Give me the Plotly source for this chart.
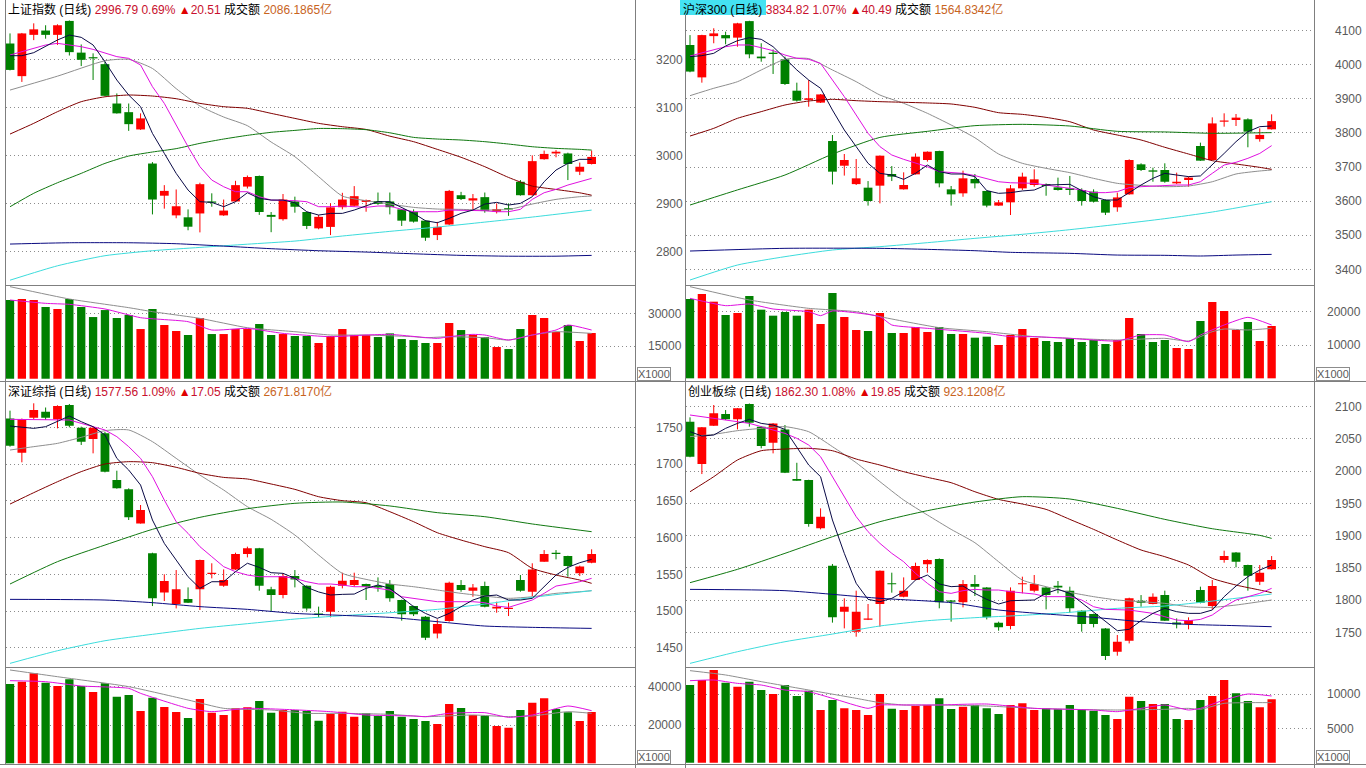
import plotly.graph_objects as go

W, H = 1366, 768
N = 50
IDX = list(range(N))

# ======================= 上证指数 =======================
SH_OPEN = [3233, 3165, 3251, 3260, 3251, 3280, 3214, 3204, 3190, 3108, 3090, 3054, 2983, 2916, 2875, 2871, 2879, 2904, 2875, 2904,
           2935, 2957, 2876, 2867, 2904, 2882, 2848, 2851, 2892, 2895, 2903, 2905, 2904, 2887.5, 2882.6, 2864, 2834, 2856, 2917, 2906,
           2913, 2882.6, 2890, 2945, 2917, 2992, 3004, 3004, 2966, 2982]
SH_HIGH = [3254, 3255, 3275, 3271, 3273, 3281, 3231, 3212.5, 3195, 3129, 3108, 3087.5, 2986, 2938, 2929, 2887.5, 2943, 2921, 2908, 2947,
           2958, 2958, 2882, 2919.5, 2914, 2883, 2876, 2900, 2922, 2936, 2908, 2922.6, 2922.6, 2888, 2887.5, 2865, 2861.5, 2928, 2924, 2919.5,
           2922.6, 2900, 2900, 2948.6, 3000, 3010, 3011, 3005.6, 2985, 3010]
SH_LOW = [3177, 3153, 3240, 3243, 3230, 3208, 3186, 3157, 3123, 3087, 3051, 3053, 2877, 2889, 2869, 2844, 2839.6, 2893, 2874, 2903,
          2931, 2876, 2840, 2864, 2880.6, 2846.5, 2846, 2834, 2887.5, 2893, 2882.6, 2897, 2877, 2853, 2860, 2822, 2823.6, 2855, 2907, 2886,
          2880.6, 2879, 2874, 2916, 2916, 2991, 2996, 2948.6, 2959, 2981]
SH_CLOSE = [3178, 3254, 3262.5, 3251, 3271, 3215, 3199, 3202, 3124, 3087.5, 3065, 3077, 2908, 2926, 2894, 2851.4, 2940, 2901.4, 2885, 2938,
            2955, 2882, 2872, 2908, 2893, 2853, 2872, 2891.7, 2908, 2915, 2907, 2899, 2892, 2864, 2862, 2828.5, 2851, 2926, 2909, 2910.6,
            2884, 2888, 2887.5, 2917, 2988, 3003, 3007.6, 2982, 2976.3, 2996.8]
SH_VOL = [36114, 36573, 36114, 32900, 32000, 36573, 32900, 28300, 31500, 27850, 29230, 22800, 32000, 24640, 21900, 20050, 27850, 20500,
          20500, 22800, 22800, 25100, 20050, 20500, 19600, 19600, 16380, 19600, 22800, 20050, 20050, 19130, 20800, 18200, 17750, 16380,
          16380, 25560, 22340, 20050, 19130, 14540, 13620, 22800, 29230, 27850, 21430, 24640, 17300, 20970]
SH_MA5 = [3207.6, 3207.6, 3213.9, 3226.4, 3240.3, 3250.7, 3245.8, 3229.9, 3195.1, 3156.9, 3125.7, 3101.4, 3045.8, 3004.2, 2962.5,
          2927.8, 2903.5, 2902.1, 2893.1, 2903.5, 2922.2, 2910.4, 2906.9, 2906.9, 2901.4, 2882.6, 2875.7, 2879.2, 2879.2, 2886.1,
          2894.5, 2903.5, 2903.5, 2891.7, 2879.2, 2863.9, 2859.7, 2868.8, 2879.2, 2886.1, 2898.6, 2902.1, 2896.5, 2900, 2913.9,
          2945.1, 2969.4, 2983.3, 2991.7, 2991.7]
SH_MA10 = [3209, 3216, 3222.9, 3229.9, 3233.3, 3229.9, 3226.4, 3220.8, 3212.5, 3205.6, 3202.1, 3188.2, 3143.1, 3108.3, 3063.2,
           3018.1, 2976.4, 2948.6, 2934.7, 2924.3, 2924.3, 2913.9, 2906.9, 2906.9, 2905.6, 2903.5, 2893.1, 2893.1, 2894.5, 2893.1,
           2891.7, 2894.5, 2894.5, 2887.5, 2882.6, 2882.6, 2882.6, 2886.1, 2886.1, 2886.1, 2884.7, 2882.6, 2882.6, 2887.5, 2908.3,
           2922.2, 2929.2, 2938.2, 2945.1, 2952.1]
SH_MA20_X = [0, 4, 8, 10, 12, 14, 16, 18, 20, 22, 24, 26, 28, 30, 32, 34, 36, 38, 40, 42, 44, 46, 48, 49]
SH_MA20 = [3136, 3165, 3197, 3200, 3181, 3139, 3102.8, 3079.9, 3061.8, 3027.8, 2997.2, 2955.6, 2915.3, 2905.6, 2898.6, 2891.7,
           2888.2, 2887.5, 2886.1, 2887.5, 2898.6, 2908.3, 2913.9, 2915.3]
SH_MA60_X = [0, 2, 4, 6, 8, 10, 12, 14, 16, 18, 20, 22, 24, 26, 28, 30, 32, 34, 36, 38, 40, 42, 44, 46, 48, 49]
SH_MA60 = [3044.4, 3066.7, 3091, 3111.8, 3122, 3125.7, 3123.6, 3118, 3108.3, 3101.4, 3098, 3087.5, 3077, 3066.7, 3059.7, 3054,
           3040, 3028.5, 3012.5, 2996, 2976.4, 2954, 2936, 2929, 2922, 2917]
SH_MA120_X = SH_MA60_X
SH_MA120 = [2893, 2921, 2943, 2962.5, 2983.3, 2998.6, 3007, 3014, 3025, 3034, 3041.7, 3048, 3052, 3056, 3055.6, 3053.5, 3047,
            3037.5, 3034, 3032, 3028.5, 3023.6, 3018, 3014.6, 3012.5, 3011]
SH_MA250_X = [0, 4, 8, 12, 16, 20, 24, 28, 32, 36, 40, 44, 49]
SH_MA250 = [2740, 2770, 2791, 2801.4, 2808.3, 2815, 2821.5, 2832, 2841.7, 2850.7, 2861, 2871.5, 2886]
SH_LONG_X = [0, 5, 10, 14, 18, 22, 26, 30, 34, 38, 42, 46, 49]
SH_LONG = [2815.3, 2818, 2818, 2816, 2811, 2805.6, 2801.4, 2798.6, 2795, 2791.7, 2790, 2790, 2791.7]
SH_VMA5_X = [0, 3, 5, 8, 11, 15, 17, 20, 23, 27, 30, 32, 36, 37, 39, 40, 42, 44, 46, 47, 49]
SH_VMA5 = [36114, 34584, 34125, 32000, 28000, 26170, 22340, 23100, 20800, 19280, 20050, 20355, 18520, 19280, 20355, 20050, 17750,
           20050, 22340, 24640, 22340]
SH_VMA10_X = [0, 5, 10, 12, 16, 20, 24, 27, 30, 34, 35, 37, 40, 42, 44, 46, 49]
SH_VMA10 = [42234, 36573, 32600, 30760, 27700, 23400, 21580, 20050, 20050, 19280, 18825, 19280, 18825, 17750, 20050, 21580, 20800]
SH_TICKS = [2800, 2900, 3000, 3100, 3200]
SH_VTICKS = [15000, 30000]

# ======================= 沪深300 =======================
HS_OPEN = [4058, 3963, 4084, 4087, 4079.5, 4128, 4024, 4035.5, 4016, 3924, 3897, 3889, 3776.4, 3704, 3650, 3639.6, 3645.5, 3679.7,
           3634.7, 3678.7, 3720.7, 3747, 3634.7, 3623, 3665, 3630, 3587, 3596.6, 3637.6, 3647.4, 3650, 3640.6, 3637.6, 3632.7, 3628,
           3603.4, 3582, 3620, 3708, 3690.4, 3691.4, 3652.3, 3662, 3761.8, 3720.7, 3833, 3838, 3840, 3782, 3810.7]
HS_HIGH = [4087, 4088, 4107, 4097, 4123, 4129, 4063, 4045, 4024, 3947.5, 3955, 3914, 3794, 3738.3, 3723.6, 3659, 3734, 3703, 3684.6,
           3740, 3746, 3748, 3644.5, 3689.5, 3679.7, 3631, 3603.4, 3647.4, 3683.6, 3693.4, 3652, 3669, 3674, 3637.6, 3634.7, 3605.4,
           3625, 3722.7, 3711, 3698.2, 3711, 3683.6, 3672, 3771.6, 3845.8, 3857.6, 3855.6, 3843, 3813.6, 3854.6]
HS_LOW = [3978, 3947.5, 4063, 4060, 4053, 4019, 4009, 3973, 3940.7, 3892, 3877, 3888, 3649, 3675, 3647.4, 3587, 3593.6, 3659, 3634,
          3678, 3716, 3640.6, 3587, 3613, 3637.6, 3582, 3586, 3559.4, 3632.7, 3642.5, 3616, 3631, 3618, 3587, 3596, 3559.4, 3569,
          3619, 3688.5, 3657, 3654, 3650, 3642.5, 3718, 3720, 3818.5, 3820.4, 3758, 3774.5, 3810]
HS_CLOSE = [3980, 4087, 4092, 4077.5, 4121.5, 4030.6, 4019, 4031.6, 3943.6, 3894.7, 3901.6, 3913, 3686.5, 3720.7, 3667, 3600.5,
            3733.4, 3672, 3647.4, 3730.5, 3745, 3652.3, 3620, 3667, 3652.3, 3587, 3596.6, 3637.6, 3672, 3664, 3644.5, 3632.7, 3632.7,
            3600.5, 3598.5, 3566.3, 3611, 3720.7, 3691.4, 3686.5, 3657, 3657, 3669, 3718.8, 3828, 3836, 3845, 3803.8, 3794.3, 3834.8]
HS_VOL = [23800, 25300, 23000, 19000, 19600, 24700, 20600, 18800, 19900, 18800, 20600, 16300, 25600, 18400, 14500, 14200, 19600,
          13600, 13600, 15400, 13900, 15400, 13300, 13300, 12200, 12500, 10000, 13000, 14800, 12100, 11200, 10900, 12100, 10900,
          11500, 10300, 11500, 18100, 13300, 10900, 11500, 9100, 8800, 17200, 22900, 20200, 14500, 16900, 11200, 15700]
HS_MA5 = [4023.8, 4026.7, 4033.5, 4055, 4070.7, 4079.5, 4074.6, 4053, 4019, 3984.7, 3955.3, 3931, 3867.3, 3808.7, 3760, 3711,
          3681.6, 3676.7, 3664, 3681.6, 3706, 3686.5, 3679.7, 3679.7, 3672, 3631, 3623, 3625, 3630, 3632.7, 3647.4, 3649.4, 3649.4,
          3631, 3613, 3603.4, 3603.4, 3625, 3647.4, 3667, 3681.6, 3676.7, 3672, 3674, 3706, 3740, 3774.5, 3803.8, 3818.5, 3820.4]
HS_MA10 = [4025.7, 4035.5, 4043.3, 4053, 4058, 4058, 4050, 4041.4, 4028.6, 4019, 4016, 4004, 3955.3, 3906.4, 3852.7, 3799, 3760,
           3735.4, 3722.7, 3711, 3701, 3686.5, 3683.6, 3681.6, 3675, 3667, 3657, 3654, 3654, 3652.3, 3647.4, 3642.5, 3637.6, 3632.7,
           3625, 3625, 3628, 3639.6, 3642.5, 3644.5, 3647.4, 3647.4, 3647.4, 3657, 3681.6, 3706, 3714, 3725.6, 3740, 3762.8]
HS_MA20_X = [0, 2, 4, 6, 8, 10, 12, 14, 16, 18, 20, 22, 24, 26, 28, 30, 32, 34, 36, 38, 40, 42, 44, 46, 48, 49]
HS_MA20 = [3909.4, 3931, 3950.4, 3984.7, 4016, 4018, 3984.7, 3950.4, 3911.3, 3887, 3857.6, 3823.4, 3786, 3738.3, 3711, 3696.3,
           3683.6, 3667, 3652.3, 3646.4, 3642.5, 3644.5, 3657, 3679.7, 3688.5, 3691.4]
HS_MA60_X = HS_MA20_X
HS_MA60 = [3791, 3813.6, 3843, 3862.5, 3882, 3893.7, 3898.6, 3894.7, 3891.8, 3890, 3888, 3885, 3875.2, 3859.5, 3854.6, 3845.8,
           3833, 3808.7, 3794, 3779.4, 3758, 3738.3, 3718.8, 3709, 3699.2, 3693.4]
HS_MA120_X = [0, 4, 8, 12, 16, 20, 24, 28, 32, 36, 40, 44, 49]
HS_MA120 = [3588.7, 3633, 3676.7, 3738, 3787, 3804.8, 3821.4, 3825.3, 3820.4, 3804.8, 3803, 3799, 3801]
HS_MA250_X = [0, 4, 8, 12, 16, 20, 24, 28, 32, 36, 40, 44, 49]
HS_MA250 = [3368.8, 3412.8, 3437.3, 3456.8, 3466.6, 3478.3, 3491, 3502.8, 3516.4, 3532, 3548.7, 3568.2, 3598.5]
HS_LONG_X = [0, 8, 16, 20, 24, 27, 32, 36, 40, 43, 46, 49]
HS_LONG = [3453.8, 3461.7, 3461.7, 3458.7, 3454.8, 3450, 3447, 3442, 3441.2, 3439.2, 3442, 3444]
HS_VMA5_X = [0, 3, 5, 7, 10, 11, 12, 16, 17, 20, 25, 27, 29, 32, 36, 38, 40, 42, 43, 45, 47, 49]
HS_VMA5 = [24000, 21800, 22300, 20800, 20000, 18800, 20200, 18500, 16000, 15000, 13500, 12500, 12500, 12000, 11200, 13000, 13000,
           11000, 13000, 16000, 18300, 16000]
HS_VMA10_X = [0, 5, 10, 14, 16, 21, 25, 29, 32, 36, 40, 42, 44, 45, 47, 49]
HS_VMA10 = [27500, 23500, 21000, 20000, 18500, 15200, 14000, 12500, 12000, 11500, 12000, 11200, 14000, 14800, 14500, 15000]
HS_TICKS = [3400, 3500, 3600, 3700, 3800, 3900, 4000, 4100]
HS_VTICKS = [10000, 20000]

# ======================= 深证综指 =======================
SZ_OPEN = [1762, 1715.5, 1763, 1771.3, 1761, 1780.4, 1749.5, 1734, 1741.8, 1678.3, 1665.6, 1619.3, 1578.5, 1525.4, 1509.5, 1516.3,
           1529.5, 1550.4, 1534.5, 1556.7, 1577.6, 1585.3, 1529.5, 1521.8, 1547.6, 1534.5, 1496.8, 1499, 1534.5, 1535.4, 1536.8,
           1534, 1536.8, 1515, 1506.8, 1492.3, 1469.6, 1486.4, 1535.4, 1527.7, 1534, 1503.6, 1502.7, 1542.2, 1526.3, 1567.2, 1579.4,
           1574.9, 1551.3, 1565.8]
SZ_HIGH = [1772.7, 1762, 1782.7, 1777, 1780, 1781.8, 1751, 1751, 1744, 1691, 1667, 1644.3, 1579.4, 1550, 1555.8, 1532.2, 1570,
           1565, 1556.7, 1579.4, 1587.6, 1586, 1533, 1551.3, 1555.8, 1535, 1506, 1534.5, 1552.2, 1552.2, 1537.3, 1545.8, 1542.2,
           1515.5, 1507.3, 1493.2, 1488.7, 1540, 1542.2, 1536.8, 1540, 1512.7, 1511.4, 1549, 1565, 1583, 1583, 1575.3, 1561.8, 1584]
SZ_LOW = [1723.7, 1702.4, 1761, 1760, 1748.6, 1750, 1726, 1714.6, 1688.7, 1666.5, 1623.9, 1619, 1506.8, 1513.6, 1503.6, 1511,
          1501.4, 1544.5, 1533, 1555.8, 1573, 1527.7, 1499, 1517.3, 1532.2, 1500.5, 1491.4, 1491.4, 1530.9, 1533, 1515, 1526.3,
          1512.7, 1486.9, 1493.2, 1460.5, 1462.8, 1485.5, 1526.3, 1519.5, 1505, 1497.7, 1493.2, 1526.3, 1520.4, 1567, 1570.3,
          1546.7, 1547.6, 1565]
SZ_CLOSE = [1725, 1761, 1773.6, 1763, 1779, 1752.3, 1730.5, 1749.5, 1689.7, 1667, 1627.5, 1637.5, 1517.3, 1540.8, 1529.5, 1511.4,
            1569.4, 1552.2, 1542.2, 1577.6, 1585.3, 1534.5, 1521.8, 1547.6, 1543, 1503.6, 1494.6, 1533, 1541.3, 1542.2, 1533, 1532.2,
            1517.3, 1495.5, 1495.5, 1463.7, 1482.3, 1538.6, 1528.6, 1532.2, 1506, 1506, 1504.5, 1527.7, 1556.7, 1577.6, 1577.6,
            1561.3, 1560.5, 1577.6]
SZ_VOL = [41390, 42600, 46950, 42085, 40350, 43820, 40350, 37216, 41740, 34780, 35650, 27300, 34260, 29390, 26780, 23650, 33560,
          26430, 25220, 28700, 29220, 32520, 26430, 27830, 27830, 27300, 22260, 25740, 26960, 24350, 26090, 24700, 27300, 24350,
          23130, 22090, 20520, 30960, 28870, 25220, 24870, 19480, 18600, 27830, 31650, 33900, 28350, 26600, 22090, 26780]
SZ_MA5 = [1751.8, 1750, 1748.6, 1750.9, 1757.7, 1765.4, 1757.7, 1750.9, 1739.6, 1707.8, 1691.9, 1671.5, 1623.9, 1592.1, 1569.4,
          1546.7, 1530.9, 1539.9, 1539.9, 1553.6, 1565, 1559.4, 1552.2, 1551.3, 1544.5, 1532.2, 1526, 1521.8, 1522.7, 1523.1,
          1530.9, 1535.4, 1530.9, 1518.6, 1506, 1496.8, 1490, 1496.8, 1506, 1515, 1520.4, 1521.8, 1515, 1515, 1517.3, 1533, 1549,
          1559.4, 1565.8, 1570.3]
SZ_MA10 = [1760.9, 1760.9, 1760.9, 1760.9, 1760.9, 1760, 1755.4, 1750.9, 1746.4, 1737.3, 1723.7, 1707.8, 1682.9, 1651.1, 1621.6,
           1605.7, 1587.6, 1574, 1560.4, 1553.6, 1549, 1546.7, 1546.7, 1546.7, 1544.5, 1539.9, 1536.8, 1536.8, 1535.4, 1533.1,
           1533.1, 1530.9, 1528.6, 1519.5, 1517.3, 1514.1, 1512.7, 1512.7, 1512.7, 1512.7, 1511.4, 1506.8, 1505, 1509.5, 1515,
           1524.1, 1534, 1536.8, 1539.9, 1544.5]
SZ_MA20_X = [0, 2, 4, 6, 8, 10, 12, 14, 16, 18, 20, 22, 24, 26, 28, 30, 32, 34, 36, 38, 40, 42, 44, 46, 48, 49]
SZ_MA20 = [1719.1, 1723.7, 1728.2, 1736.4, 1745.5, 1746.4, 1730.5, 1707.8, 1685.1, 1664.7, 1642, 1624.8, 1603.4, 1576.2, 1551.3,
           1543.1, 1536.8, 1533.1, 1528.6, 1524.1, 1520.4, 1517.3, 1519.5, 1524.1, 1526.3, 1527.7]
SZ_MA60_X = SZ_MA20_X
SZ_MA60 = [1645.6, 1661.1, 1676, 1689.7, 1700.1, 1703.3, 1701.9, 1695.6, 1687.4, 1681.9, 1679.7, 1672.9, 1665.6, 1655.6, 1650.2,
           1647.4, 1635.2, 1621.6, 1606.6, 1596.6, 1587.6, 1579.4, 1558.1, 1549, 1542.2, 1537.7]
SZ_MA120_X = [0, 4, 8, 12, 16, 20, 24, 28, 32, 36, 40, 44, 49]
SZ_MA120 = [1536.8, 1567.2, 1589.8, 1611.2, 1627.5, 1639.3, 1646.6, 1648.4, 1643, 1633.9, 1628.4, 1618.5, 1608]
SZ_MA250_X = [0, 4, 8, 12, 16, 20, 24, 28, 32, 36, 40, 44, 49]
SZ_MA250 = [1428.8, 1446, 1459.6, 1468.3, 1476.4, 1482.8, 1489.1, 1493.7, 1497.7, 1502.3, 1509.5, 1518.6, 1527.7]
SZ_LONG_X = [0, 8, 12, 16, 20, 24, 28, 32, 36, 40, 44, 49]
SZ_LONG = [1515.9, 1515, 1511.4, 1506, 1502.3, 1496.8, 1494.1, 1491.4, 1485.5, 1479.6, 1477.8, 1476.4]
SZ_VMA5_X = [0, 3, 6, 10, 11, 15, 17, 20, 23, 27, 30, 34, 35, 37, 40, 42, 44, 47, 49]
SZ_VMA5 = [43130, 42600, 40350, 39130, 36520, 28700, 26960, 28700, 28170, 26960, 25220, 24700, 24350, 26090, 26430, 24000, 25220,
           29910, 27480]
SZ_VMA10_X = [0, 4, 10, 15, 18, 22, 25, 28, 32, 35, 39, 42, 44, 47, 49]
SZ_VMA10 = [48700, 45200, 40000, 33040, 28700, 27830, 26090, 26090, 25560, 24350, 25220, 24350, 24700, 26960, 26090]
SZ_TICKS = [1450, 1500, 1550, 1600, 1650, 1700, 1750]
SZ_VTICKS = [20000, 40000]

# ======================= 创业板综 =======================
CY_OPEN = [2076.7, 2011, 2070.5, 2088.6, 2080.4, 2104, 2069, 2044.2, 2064.8, 1987.8, 1986.2, 1911.3, 1853.3, 1782, 1751, 1769.5,
           1793.9, 1826, 1805.3, 1831.1, 1855.4, 1863.7, 1799, 1796.5, 1825, 1819.7, 1765, 1759.8, 1824.4, 1814.6, 1819.7, 1822.3,
           1814.6, 1783.5, 1778.4, 1756.1, 1720, 1737, 1799, 1793.9, 1807.8, 1765.4, 1762.9, 1815.6, 1790.8, 1862.1, 1874, 1854.4,
           1828.5, 1847.7]
CY_HIGH = [2083.5, 2068.5, 2102.6, 2094.8, 2098, 2105, 2069.5, 2074.5, 2071.6, 2013, 1986.7, 1942.3, 1856, 1802.7, 1814.6, 1793.9,
           1846, 1842.5, 1835.2, 1858, 1863.2, 1864.7, 1800, 1831.1, 1838.9, 1820.2, 1766.5, 1819.7, 1836.3, 1838.9, 1820.2, 1829.6,
           1820.8, 1784, 1778.9, 1756.6, 1745.8, 1803.7, 1807.8, 1810.4, 1814.6, 1771.6, 1773.2, 1820.8, 1831.1, 1876.6, 1874.5,
           1854.9, 1854.4, 1868.3]
CY_LOW = [2021.5, 1995.5, 2070, 2079.3, 2064.8, 2069, 2035.4, 2027.6, 1997, 1985, 1913.8, 1909.7, 1765, 1756.1, 1743.2, 1769,
          1758.7, 1811.5, 1804.2, 1830.6, 1842.5, 1787.2, 1766.5, 1788.7, 1806.3, 1770, 1752.5, 1754.6, 1810.4, 1812, 1785.6, 1810.4,
          1780.4, 1751, 1757.7, 1707, 1713.7, 1732.8, 1789.7, 1793.4, 1767.5, 1756.1, 1754.6, 1794.9, 1785.6, 1858, 1850.8, 1814.6,
          1823.3, 1847.2]
CY_CLOSE = [2022.4, 2068, 2089.7, 2080.4, 2097.4, 2075, 2039, 2074, 1997.6, 1985.2, 1918, 1929.4, 1773.2, 1789.7, 1782, 1770.5,
            1845.6, 1824.4, 1814.6, 1852.8, 1862.1, 1796.5, 1797.5, 1825, 1820.8, 1773.2, 1757.7, 1814.6, 1826, 1825, 1807.8,
            1819.7, 1787.2, 1762.9, 1762.9, 1713.2, 1735.4, 1802.7, 1796, 1805.3, 1768, 1762.3, 1769, 1796, 1821.8, 1868.3, 1859.5,
            1837.8, 1842.5, 1862.3]
CY_VOL = [11310, 12040, 13495, 11650, 11068, 11796, 10582, 10000, 11310, 9708, 10485, 7670, 9126, 7912, 7670, 6942, 10000, 7864,
          7670, 8252, 8398, 9369, 7815, 8155, 8398, 7912, 7087, 8398, 8640, 7670, 7912, 7815, 8398, 7815, 7573, 6942, 6359, 9611,
          8980, 8543, 8543, 6359, 6214, 9126, 9708, 12040, 10097, 8980, 8058, 9223]
CY_MA5 = [2061.2, 2054.5, 2056, 2066.4, 2074.1, 2080.4, 2074.1, 2071.6, 2064.8, 2037.9, 2009.5, 1991.4, 1924.2, 1872.5, 1826,
          1801.1, 1797.5, 1802.7, 1813, 1831.1, 1838.9, 1825, 1820.8, 1821.8, 1810.4, 1801.1, 1793.9, 1799, 1800.1, 1800.1, 1810.4,
          1816.6, 1810.4, 1796, 1782, 1766.5, 1752.5, 1754.6, 1768, 1779.4, 1787.2, 1782, 1779.4, 1779.4, 1784.6, 1805.3, 1821.8,
          1836.3, 1846.6, 1854.4]
CY_MA10 = [2087.1, 2084.5, 2081.9, 2080.4, 2076.7, 2074.1, 2069, 2063.8, 2058.6, 2050.9, 2040.5, 2022.4, 1991.4, 1960.4, 1929.4,
           1906.1, 1888, 1872.5, 1859.5, 1841.4, 1826, 1813, 1810.4, 1814.6, 1816.6, 1815.6, 1815.6, 1813, 1811.5, 1809.4, 1805.3,
           1805.3, 1805.3, 1800.1, 1789.7, 1785.6, 1784.6, 1784.6, 1782, 1779.4, 1774.2, 1769, 1768, 1770, 1776.8, 1789.7, 1800.1,
           1805.3, 1810.4, 1818.2]
CY_MA20_X = [0, 2, 4, 6, 8, 10, 12, 14, 16, 18, 20, 22, 24, 26, 28, 30, 32, 34, 36, 38, 40, 42, 44, 46, 48, 49]
CY_MA20 = [2053.5, 2057.1, 2062.8, 2066.4, 2069, 2061.2, 2038, 2013.1, 1983.7, 1955.2, 1932, 1909.7, 1889, 1859.5, 1831.1, 1820.8,
           1812, 1805.3, 1800.1, 1797.5, 1794.9, 1789.7, 1788.7, 1792.3, 1797.5, 1800.1]
CY_MA60_X = CY_MA20_X
CY_MA60 = [1968.1, 1991.4, 2017.3, 2031.7, 2034.3, 2035.4, 2031.7, 2018.8, 2009.5, 1999.2, 1990.4, 1982.1, 1968.1, 1956.2, 1949,
           1940.7, 1925.2, 1909.7, 1893.2, 1877.7, 1867.3, 1854.4, 1833.7, 1823.3, 1815.6, 1811.5]
CY_MA120_X = [0, 4, 8, 12, 16, 20, 24, 28, 32, 36, 40, 44, 48, 49]
CY_MA120 = [1827, 1847.7, 1872.5, 1898.3, 1921.6, 1938.7, 1952.1, 1960.4, 1956.8, 1942.3, 1925.2, 1910.7, 1900.4, 1895.7]
CY_MA250_X = [0, 4, 8, 12, 16, 20, 24, 28, 32, 36, 40, 44, 49]
CY_MA250 = [1701.8, 1719.9, 1735.4, 1747.3, 1759.8, 1768, 1772.7, 1776.3, 1781, 1787.2, 1790.8, 1798.5, 1809.4]
CY_LONG_X = [0, 8, 16, 22, 26, 30, 34, 38, 42, 46, 49]
CY_LONG = [1816.6, 1814.6, 1802.7, 1796, 1784.6, 1778.4, 1773.2, 1766.5, 1762.3, 1760.3, 1758.7]
CY_VMA5_X = [0, 2, 4, 6, 8, 10, 12, 15, 16, 18, 21, 23, 25, 29, 32, 34, 36, 38, 40, 42, 43, 45, 47, 49]
CY_VMA5 = [11940, 12040, 11550, 11310, 10580, 10340, 9370, 7910, 8400, 8400, 8400, 8500, 8540, 7910, 7770, 7670, 7430, 7910,
           8400, 7670, 7910, 9130, 10000, 9710]
CY_VMA10_X = [0, 3, 6, 10, 14, 16, 18, 21, 25, 29, 32, 36, 40, 42, 43, 45, 47, 49]
CY_VMA10 = [13400, 12770, 11800, 10580, 9370, 8740, 8400, 8400, 8250, 7910, 7770, 7670, 7770, 7910, 7770, 8640, 8740, 8740]
CY_TICKS = [1750, 1800, 1850, 1900, 1950, 2000, 2050, 2100]
CY_VTICKS = [5000, 10000]

# titles
NAMES = ["上证指数 (日线)", "沪深300 (日线)", "深证综指 (日线)", "创业板综 (日线)"]
LAST = ["2996.79", "3834.82", "1577.56", "1862.30"]
PCT = ["0.69%", "1.07%", "1.09%", "1.08%"]
CHG = ["20.51", "40.49", "17.05", "19.85"]
AMT = ["2086.1865亿", "1564.8342亿", "2671.8170亿", "923.1208亿"]

# ======================= drawing =======================
RED, GREEN = "#FF0000", "#008000"
C_MA5, C_MA10, C_MA20 = "#0A0A46", "#E010E0", "#8E8E8E"
C_MA60, C_MA120, C_MA250, C_LONG = "#800000", "#107810", "#3CDCDC", "#0A0A80"
GRID = "#8C8C8C"
FONT = "Liberation Sans, Noto Sans CJK SC, sans-serif"


def fx(x):
    return x / W


def fy(y):
    return 1 - y / H


fig = go.Figure()

panels = [
    dict(o=SH_OPEN, h=SH_HIGH, l=SH_LOW, c=SH_CLOSE, v=SH_VOL, ma5=SH_MA5, ma10=SH_MA10,
         lines=[(SH_MA20_X, SH_MA20, C_MA20), (SH_MA60_X, SH_MA60, C_MA60), (SH_MA120_X, SH_MA120, C_MA120),
                (SH_MA250_X, SH_MA250, C_MA250), (SH_LONG_X, SH_LONG, C_LONG)],
         vlines=[(SH_VMA10_X, SH_VMA10, C_MA20), (SH_VMA5_X, SH_VMA5, C_MA10)],
         ticks=SH_TICKS, vticks=SH_VTICKS, x0=6, x1=635, yt=0, ym=285, yv=286, yb=381,
         prange=[2730.0, 3323.6], vrange=[-1040, 42537]),
    dict(o=HS_OPEN, h=HS_HIGH, l=HS_LOW, c=HS_CLOSE, v=HS_VOL, ma5=HS_MA5, ma10=HS_MA10,
         lines=[(HS_MA20_X, HS_MA20, C_MA20), (HS_MA60_X, HS_MA60, C_MA60), (HS_MA120_X, HS_MA120, C_MA120),
                (HS_MA250_X, HS_MA250, C_MA250), (HS_LONG_X, HS_LONG, C_LONG)],
         vlines=[(HS_VMA10_X, HS_VMA10, C_MA20), (HS_VMA5_X, HS_VMA5, C_MA10)],
         ticks=HS_TICKS, vticks=HS_VTICKS, x0=686, x1=1314, yt=0, ym=285, yv=286, yb=381,
         prange=[3354.2, 4189.9], vrange=[-800, 27700]),
    dict(o=SZ_OPEN, h=SZ_HIGH, l=SZ_LOW, c=SZ_CLOSE, v=SZ_VOL, ma5=SZ_MA5, ma10=SZ_MA10,
         lines=[(SZ_MA20_X, SZ_MA20, C_MA20), (SZ_MA60_X, SZ_MA60, C_MA60), (SZ_MA120_X, SZ_MA120, C_MA120),
                (SZ_MA250_X, SZ_MA250, C_MA250), (SZ_LONG_X, SZ_LONG, C_LONG)],
         vlines=[(SZ_VMA10_X, SZ_VMA10, C_MA20), (SZ_VMA5_X, SZ_VMA5, C_MA10)],
         ticks=SZ_TICKS, vticks=SZ_VTICKS, x0=6, x1=635, yt=382, ym=667.7, yv=668.5, yb=764,
         prange=[1422.9, 1811.7], vrange=[-346, 49476]),
    dict(o=CY_OPEN, h=CY_HIGH, l=CY_LOW, c=CY_CLOSE, v=CY_VOL, ma5=CY_MA5, ma10=CY_MA10,
         lines=[(CY_MA20_X, CY_MA20, C_MA20), (CY_MA60_X, CY_MA60, C_MA60), (CY_MA120_X, CY_MA120, C_MA120),
                (CY_MA250_X, CY_MA250, C_MA250), (CY_LONG_X, CY_LONG, C_LONG)],
         vlines=[(CY_VMA10_X, CY_VMA10, C_MA20), (CY_VMA5_X, CY_VMA5, C_MA10)],
         ticks=CY_TICKS, vticks=CY_VTICKS, x0=686, x1=1314, yt=382, ym=667.7, yv=668.5, yb=764,
         prange=[1695.1, 2138.3], vrange=[-194, 13713]),
]

STEP = 11.87  # px per candle
layout_axes = {}
for p, P in enumerate(panels):
    a, b = 2 * p + 1, 2 * p + 2
    xa, ya = ("x" if a == 1 else f"x{a}"), ("y" if a == 1 else f"y{a}")
    xb, yb = f"x{b}", f"y{b}"
    width_px = P["x1"] - P["x0"]
    r0 = -4.0 / STEP
    xr = [r0, r0 + width_px / STEP]
    common_x = dict(domain=[fx(P["x0"]), fx(P["x1"])], range=xr, showgrid=False, zeroline=False,
                    showticklabels=False, ticks="", showline=False, fixedrange=True)
    layout_axes["xaxis" if a == 1 else f"xaxis{a}"] = dict(common_x, anchor=ya)
    layout_axes[f"xaxis{b}"] = dict(common_x, anchor=yb)
    common_y = dict(side="right", showgrid=True, gridcolor=GRID, griddash="1px,3px", gridwidth=1, zeroline=False,
                    showline=False, ticks="", tickfont=dict(family=FONT, size=12, color="#5A5A5A"), fixedrange=True)
    layout_axes["yaxis" if a == 1 else f"yaxis{a}"] = dict(
        common_y, anchor=xa, domain=[fy(P["ym"]), fy(P["yt"])], range=P["prange"],
        tickvals=P["ticks"], ticktext=[str(t) for t in P["ticks"]], ticklabelstandoff=20)
    layout_axes[f"yaxis{b}"] = dict(
        common_y, anchor=xb, domain=[fy(P["yb"]), fy(P["yv"])], range=P["vrange"],
        tickvals=P["vticks"], ticktext=[str(t) for t in P["vticks"]], ticklabelstandoff=12)

    o, h, l, c, v = P["o"], P["h"], P["l"], P["c"], P["v"]
    up = [ci >= oi for oi, ci in zip(o, c)]
    cols = [RED if u else GREEN for u in up]
    pane_h = P["ym"] - P["yt"]
    unit = (P["prange"][1] - P["prange"][0]) / pane_h  # value per pixel

    # wicks
    for flag, col in ((True, RED), (False, GREEN)):
        wx, wy = [], []
        for i in IDX:
            if up[i] == flag:
                wx += [i, i, None]
                wy += [l[i], h[i], None]
        fig.add_trace(go.Scatter(x=wx, y=wy, mode="lines", line=dict(color=col, width=1),
                                 xaxis=xa, yaxis=ya, hoverinfo="skip"))
    # bodies
    base = [min(oi, ci) for oi, ci in zip(o, c)]
    hgt = [max(abs(ci - oi), unit * 1.2) for oi, ci in zip(o, c)]
    fig.add_trace(go.Bar(x=IDX, y=hgt, base=base, width=0.74, marker=dict(color=cols, line=dict(width=0)),
                         xaxis=xa, yaxis=ya, hoverinfo="skip"))
    # moving averages
    for xs, ys, col in P["lines"]:
        fig.add_trace(go.Scatter(x=xs, y=ys, mode="lines", line=dict(color=col, width=1, shape="spline", smoothing=0.6),
                                 xaxis=xa, yaxis=ya, hoverinfo="skip"))
    fig.add_trace(go.Scatter(x=IDX, y=P["ma10"], mode="lines", line=dict(color=C_MA10, width=1),
                             xaxis=xa, yaxis=ya, hoverinfo="skip"))
    fig.add_trace(go.Scatter(x=IDX, y=P["ma5"], mode="lines", line=dict(color=C_MA5, width=1),
                             xaxis=xa, yaxis=ya, hoverinfo="skip"))
    # volume
    fig.add_trace(go.Bar(x=IDX, y=v, width=0.7, marker=dict(color=cols, line=dict(width=0)),
                         xaxis=xb, yaxis=yb, hoverinfo="skip"))
    for xs, ys, col in P["vlines"]:
        fig.add_trace(go.Scatter(x=xs, y=ys, mode="lines", line=dict(color=col, width=1, shape="spline", smoothing=0.5),
                                 xaxis=xb, yaxis=yb, hoverinfo="skip"))

# ---- borders / frames ----
LINE = dict(color="#7F7F7F", width=1)
shapes = []


def vline(x, y0, y1, **kw):
    shapes.append(dict(type="line", xref="paper", yref="paper", x0=fx(x), x1=fx(x), y0=fy(y0), y1=fy(y1),
                       line=kw.get("line", LINE), layer="above"))


def hline(y, x0, x1, **kw):
    shapes.append(dict(type="line", xref="paper", yref="paper", x0=fx(x0), x1=fx(x1), y0=fy(y), y1=fy(y),
                       line=kw.get("line", LINE), layer="above"))


vline(5.5, 0, 764)
vline(635.5, 0, 768)
vline(685.5, 0, 768)
vline(1314.5, 0, 768)
hline(285.5, 5.5, 635.5)
hline(285.5, 685.5, 1314.5)
hline(381.5, 0, 1366)
hline(667.5, 5.5, 635.5)
hline(667.5, 685.5, 1314.5)
hline(764.5, 0, 1366)
# highlighted (selected) title background
shapes.append(dict(type="rect", xref="paper", yref="paper", x0=fx(680), x1=fx(766), y0=fy(15), y1=fy(0),
                   fillcolor="#44E2F2", line=dict(width=0), layer="above"))

annotations = []
title_pos = [(7, 1), (682, 1), (7, 383), (687, 383)]
for k in range(4):
    txt = (f"<span style='color:#000000'>{NAMES[k]}</span> "
           f"<span style='color:#C8102E'>{LAST[k]} {PCT[k]}</span> "
           f"<span style='color:#E00000'>▲</span><span style='color:#C8102E'>{CHG[k]}</span> "
           f"<span style='color:#000000'>成交额</span> "
           f"<span style='color:#C8641E'>{AMT[k]}</span>")
    xx, yy = title_pos[k]
    annotations.append(dict(text=txt, xref="paper", yref="paper", x=fx(xx), y=fy(yy), xanchor="left",
                            yanchor="top", showarrow=False, font=dict(family=FONT, size=12), borderpad=0))
for xx, yy in [(637, 381), (1316, 381), (637, 764), (1316, 764)]:
    annotations.append(dict(text="X1000", xref="paper", yref="paper", x=fx(xx), y=fy(yy), xanchor="left",
                            yanchor="bottom", showarrow=False, font=dict(family=FONT, size=11, color="#5A5A5A"),
                            bordercolor="#8C8C8C", borderwidth=1, borderpad=0, bgcolor="#FFFFFF"))

fig.update_layout(width=W, height=H, margin=dict(l=0, r=0, t=0, b=0), paper_bgcolor="#FFFFFF",
                  plot_bgcolor="#FFFFFF", showlegend=False, barmode="overlay", hovermode=False,
                  shapes=shapes, annotations=annotations, **layout_axes)

fig.write_html("out.html", config=dict(displayModeBar=False, staticPlot=True))
